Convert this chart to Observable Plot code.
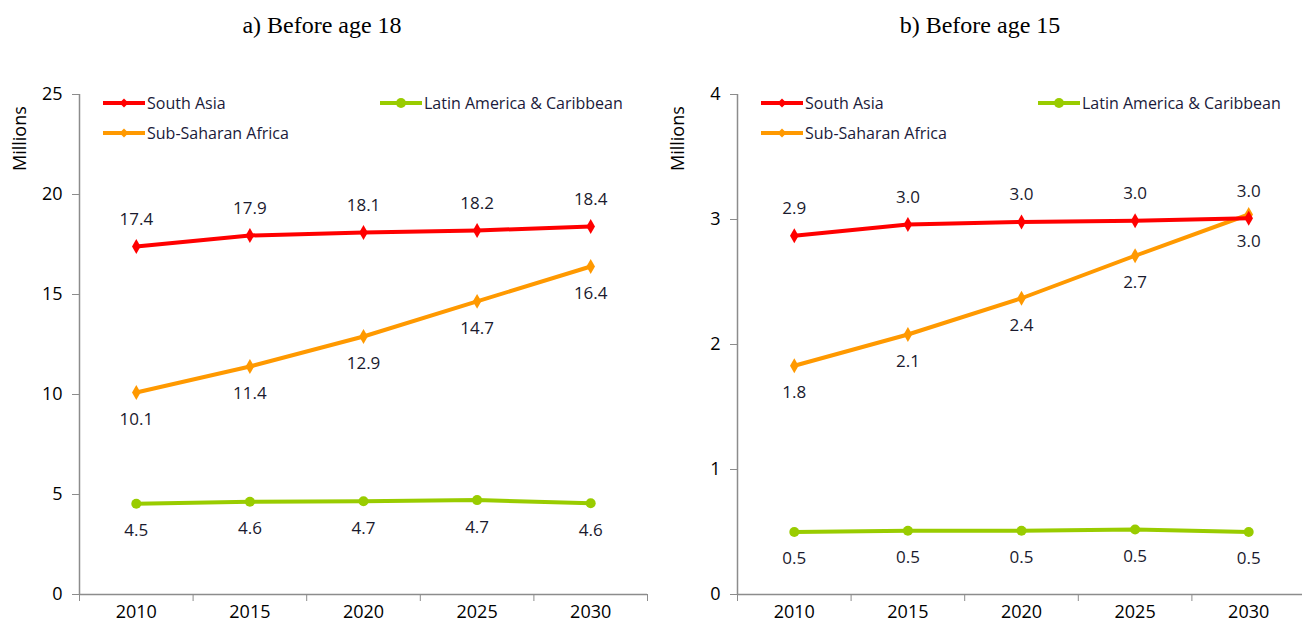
<!DOCTYPE html>
<html>
<head>
<meta charset="utf-8">
<script src="https://cdn.jsdelivr.net/npm/d3@7"></script>
<script src="https://cdn.jsdelivr.net/npm/@observablehq/plot@0.6"></script>
<style>
  html, body { margin:0; padding:0; background:#fff; overflow:hidden; }
  #root { position:relative; width:1302px; height:632px; overflow:hidden; }
  .panel { position:absolute; top:0; width:660px; height:632px; }
  .panel svg { max-width:none !important; }
  .title { position:absolute; top:12px; font-family:"Liberation Serif","Times New Roman",serif; font-size:24px; color:#000; white-space:nowrap; transform:translateX(-50%); }
  .ylab { position:absolute; font-family:"Open Sans",sans-serif; font-size:18px; color:#000; transform:rotate(-90deg); transform-origin:left top; white-space:nowrap; }
  .leg { position:absolute; display:flex; align-items:center; font-family:"Open Sans",sans-serif; font-size:16px; color:#1a1a3a; white-space:nowrap; }
  .leg svg { margin-right:2px; }
</style>
</head>
<body>
<div id="root"></div>
<script>
// ---- data ----
const years = [2010, 2015, 2020, 2025, 2030];
const seriesNames = ["South Asia", "Sub-Saharan Africa", "Latin America & Caribbean"];
const seriesColors = ["#ff0000", "#ff9900", "#99cc00"];

// a) Before age 18 (millions)
const a_southAsia = [17.4, 17.95, 18.1, 18.2, 18.4];
const a_subSaharan = [10.1, 11.4, 12.9, 14.66, 16.4];
const a_latinAm = [4.54, 4.64, 4.66, 4.72, 4.56];
const a_yTicks = [0, 5, 10, 15, 20, 25];

// b) Before age 15 (millions)
const b_southAsia = [2.87, 2.96, 2.98, 2.99, 3.01];
const b_subSaharan = [1.83, 2.08, 2.37, 2.71, 3.04];
const b_latinAm = [0.50, 0.51, 0.51, 0.52, 0.50];
const b_yTicks = [0, 1, 2, 3, 4];

// label placement per series: above (-1) or below (+1)
const labelSide = [-1, 1, 1];

const boundaries = [2007.5, 2012.5, 2017.5, 2022.5, 2027.5, 2032.5];

function rows(vals, si) {
  return years.map((y, i) => ({year: y, value: vals[i], series: seriesNames[si], si}));
}

function makePanel(seriesVals, yTicks) {
  const yMax = yTicks[yTicks.length - 1];
  const marks = [
    Plot.ruleX([2007.5], {stroke: "#8c8c8c", strokeWidth: 1.5}),
    Plot.ruleY([0], {stroke: "#8c8c8c", strokeWidth: 1.5}),
    Plot.axisY({ticks: yTicks, tickSize: 7, tickPadding: 10, stroke: "#8c8c8c", tickFormat: d => String(d), label: null, fontSize: 18, fill: "#000"}),
    Plot.axisX({ticks: boundaries, tickSize: 7, tickFormat: () => "", stroke: "#8c8c8c", label: null}),
    Plot.axisX({ticks: years, tickSize: 0, tickPadding: 11, tickFormat: d => String(d), label: null, fontSize: 18, fill: "#000"})
  ];
  const order = [2, 1, 0];
  for (const si of order) {
    const data = rows(seriesVals[si], si);
    marks.push(Plot.line(data, {x: "year", y: "value", stroke: seriesColors[si], strokeWidth: 4}));
    if (si === 2) {
      marks.push(Plot.dot(data, {x: "year", y: "value", r: 5, fill: seriesColors[si], stroke: "none"}));
    } else {
      marks.push(Plot.dot(data, {x: "year", y: "value", r: 4.5, symbol: "diamond", fill: seriesColors[si], stroke: "none"}));
    }
  }
  for (const si of order) {
    const data = rows(seriesVals[si], si);
    marks.push(Plot.text(data, {x: "year", y: "value", text: d => d3.format(".1f")(d.value), dy: labelSide[si] * 27, fill: "#1a1a2e", fontSize: 17}));
  }
  return Plot.plot({
    width: 660, height: 632,
    marginLeft: 79, marginRight: 13, marginTop: 94, marginBottom: 38,
    x: {domain: [2007.5, 2032.5]},
    y: {domain: [0, yMax]},
    style: {fontFamily: "'Open Sans', sans-serif", fontSize: "16px", background: "transparent", overflow: "visible", maxWidth: "none"},
    marks
  });
}

const root = document.getElementById("root");

function addPanel(left, title, seriesVals, yTicks) {
  const p = document.createElement("div");
  p.className = "panel";
  p.style.left = left + "px";
  p.appendChild(makePanel(seriesVals, yTicks));
  root.appendChild(p);

  const t = document.createElement("div");
  t.className = "title";
  t.style.left = (left + 322) + "px";
  t.textContent = title;
  root.appendChild(t);

  const yl = document.createElement("div");
  yl.className = "ylab";
  yl.style.left = (left + 7) + "px";
  yl.style.top = "171px";
  yl.textContent = "Millions";
  root.appendChild(yl);

  const legendPos = [[left + 103, 104], [left + 103, 134], [left + 380, 104]];
  seriesNames.forEach((name, si) => {
    const d = document.createElement("div");
    d.className = "leg";
    d.style.left = legendPos[si][0] + "px";
    d.style.top = (legendPos[si][1] - 12) + "px";
    const sym = si === 2
      ? `<circle cx="21" cy="6" r="5" fill="${seriesColors[si]}"/>`
      : `<path d="M21 1.5 L25.5 6 L21 10.5 L16.5 6 Z" fill="${seriesColors[si]}"/>`;
    d.innerHTML = `<svg width="42" height="12"><line x1="0" y1="6" x2="42" y2="6" stroke="${seriesColors[si]}" stroke-width="4"/>${sym}</svg><span>${name}</span>`;
    root.appendChild(d);
  });
}

addPanel(0, "a) Before age 18", [a_southAsia, a_subSaharan, a_latinAm], a_yTicks);
addPanel(658, "b) Before age 15", [b_southAsia, b_subSaharan, b_latinAm], b_yTicks);
</script>
</body>
</html>
